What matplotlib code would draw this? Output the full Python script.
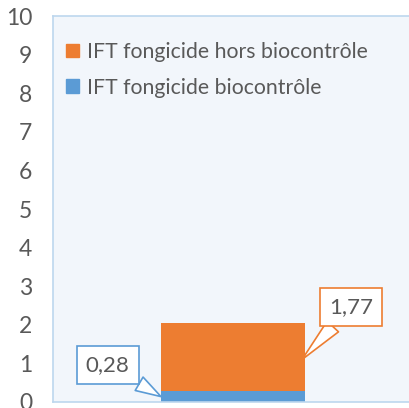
import numpy as np
import matplotlib.pyplot as plt
from matplotlib.patches import Patch

plt.rcParams['font.family'] = ['Lato', 'DejaVu Sans']

series = ['IFT fongicide biocontrôle', 'IFT fongicide hors biocontrôle']
values = [0.28, 1.77]
colors = ['#5B9BD5', '#ED7D31']
labels = ['0,28', '1,77']
yticks = np.arange(0, 11, 1)

fig = plt.figure(figsize=(4.10, 4.08), dpi=100)
ax = fig.add_axes([53/410, 6/408, 1 - 53/410, 386/408])
ax.set_facecolor('#F2F6FB')

bottom = 0
mids = []
for v, c in zip(values, colors):
    ax.bar(0, v, width=1.0, bottom=bottom, color=c, zorder=2)
    mids.append(bottom + v / 2)
    bottom += v

ax.set_xlim(-1.25, 1.23)
ax.set_ylim(0, 10)
ax.set_yticks(yticks)
ax.set_xticks([])
ax.tick_params(axis='y', length=0, pad=15, labelsize=16.5, labelcolor='#595959')
for s in ['left', 'top', 'bottom']:
    ax.spines[s].set_color('#BDD7EE')
    ax.spines[s].set_linewidth(1.2)
ax.spines['right'].set_visible(False)

# callouts
ax.annotate(labels[0], xy=(-0.5, mids[0]), xytext=(-0.87, 0.95),
            ha='center', va='center', fontsize=16, color='#595959',
            bbox=dict(boxstyle='square,pad=0.4', fc='white', ec=colors[0], lw=1.2),
            arrowprops=dict(arrowstyle='wedge,tail_width=0.7', fc='white', ec=colors[0],
                            lw=1.2, shrinkA=0, shrinkB=0),
            zorder=3)
ax.annotate(labels[1], xy=(0.48, 1.1), xytext=(0.82, 2.46),
            ha='center', va='center', fontsize=16, color='#595959',
            bbox=dict(boxstyle='square,pad=0.4', fc='white', ec=colors[1], lw=1.2),
            arrowprops=dict(arrowstyle='wedge,tail_width=0.7', fc='white', ec=colors[1],
                            lw=1.2, shrinkA=0, shrinkB=0),
            zorder=3)

handles = [Patch(color=colors[1]), Patch(color=colors[0])]
ax.legend(handles, [series[1], series[0]], loc='upper left', frameon=False,
          fontsize=15.3, labelcolor='#595959', handlelength=0.62, handleheight=0.62,
          handletextpad=0.4, labelspacing=0.75, borderaxespad=0.0,
          bbox_to_anchor=(0.012, 0.955))

fig.savefig('out.png', dpi=100)
